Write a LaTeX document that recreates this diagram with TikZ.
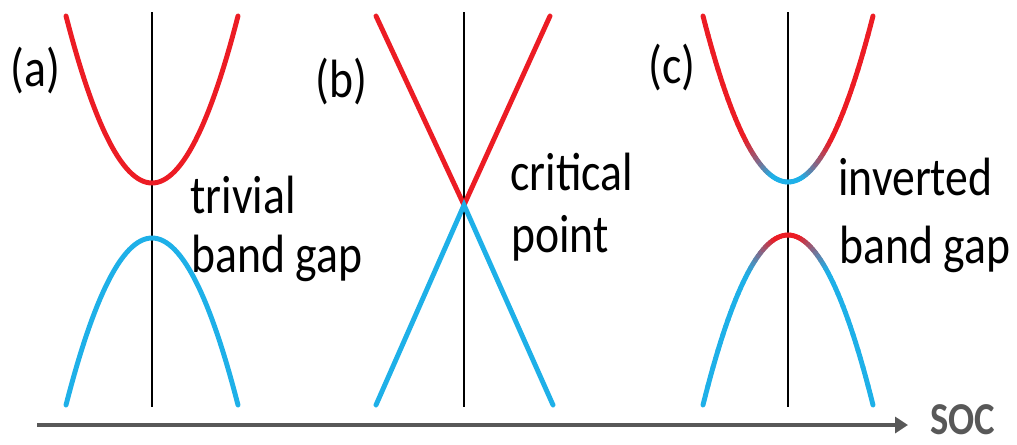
\documentclass[tikz,border=0pt]{standalone}
\usepackage{fontspec}
\setmainfont{Carlito}
\usepackage{graphicx}
\usepackage{xcolor}
\usepackage{tikz}
\usetikzlibrary{arrows.meta}

\definecolor{bandred}{RGB}{236,28,36}
\definecolor{bandblue}{RGB}{30,176,232}
\definecolor{socgray}{RGB}{88,88,88}
\newcommand\vstretch[1]{\scalebox{1}[1.18]{#1}}

\begin{document}
\begin{tikzpicture}[
  x=0.02cm, y=-0.02cm,
  band/.style={line width=2.8pt, line cap=round},
  kaxis/.style={line width=1.1pt, black},
  lbl/.style={anchor=base west, inner sep=0pt, font=\fontsize{26}{30}\selectfont},
  soclbl/.style={anchor=base west, inner sep=0pt, text=socgray,
                 font=\fontsize{22}{26}\selectfont\bfseries},
  socarrow/.style={-{Triangle[length=0.26cm, width=0.32cm]}, line width=2.5pt, socgray}
]
\useasboundingbox (0,0) rectangle (1017,444);

% (a) trivial gap
\draw[kaxis] (152,12) -- (152,407);
\draw[band, bandred]  plot[domain=-86:86, samples=61] ({152+\x},{183-0.02258*\x*\x});
\draw[band, bandblue] plot[domain=-86:86, samples=61] ({152+\x},{238+0.02258*\x*\x});

% (b) critical point
\draw[kaxis] (464,12) -- (464,407);
\draw[band, bandred]  (376,16) -- (464,205) -- (550,16);
\draw[band, bandblue] (376,405) -- (464,205) -- (553,405);

% (c) inverted gap
\draw[kaxis] (788,12) -- (788,407);
\foreach \i in {-34,...,33} {
  \pgfmathsetmacro\ua{2.5*\i}
  \pgfmathsetmacro\ub{2.5*\i+2.5}
  \pgfmathsetmacro\pup{max(0,min(100,(abs(\ua+1.25)-15)*100/28))}
  \pgfmathsetmacro\plo{max(0,min(100,100-(abs(\ua+1.25)-12)*100/28))}
  \draw[band, draw=bandred!\pup!bandblue]
    ({788+\ua},{182-0.02298*\ua*\ua}) -- ({788+\ub},{182-0.02298*\ub*\ub});
  \draw[band, draw=bandred!\plo!bandblue]
    ({788+\ua},{235+0.02353*\ua*\ua}) -- ({788+\ub},{235+0.02353*\ub*\ub});
}

% labels
\node[lbl] (lbla)  at (10,86)   {\vstretch{(a)}};
\node[lbl] (lblb)  at (315,97)  {\vstretch{(b)}};
\node[lbl] (lblc)  at (648,83)  {\vstretch{(c)}};
\node[lbl] (triv1) at (190,213) {\vstretch{trivial}};
\node[lbl] (triv2) at (191,272) {\vstretch{band gap}};
\node[lbl] (crit1) at (510,190) {\vstretch{critical}};
\node[lbl] (crit2) at (511,252) {\vstretch{point}};
\node[lbl] (inv1)  at (838,195) {\vstretch{inverted}};
\node[lbl] (inv2)  at (839,263) {\vstretch{band gap}};

% SOC axis
\coordinate (socstart) at (37,425);
\node[soclbl] (soc) at (930,434) {\vstretch{SOC}};
\draw[socarrow, shorten >=0.44cm] (socstart) -- (soc.west |- socstart);

\end{tikzpicture}
\end{document}
